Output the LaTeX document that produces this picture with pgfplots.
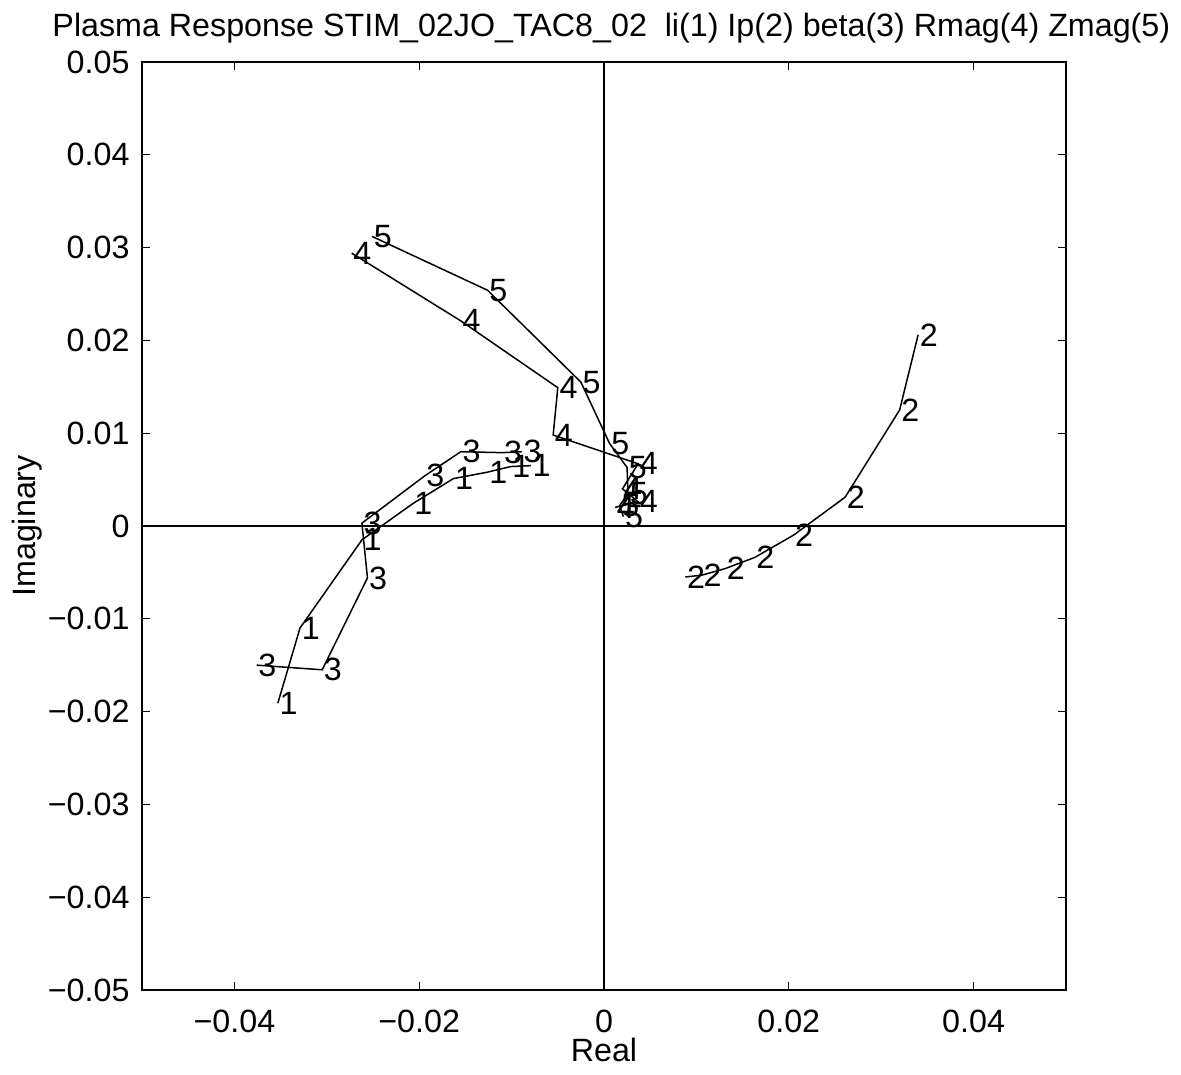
\documentclass[border=0pt]{standalone}
\usepackage{fontspec}
\setmainfont{Liberation Sans}
\usepackage{pgfplots}
\pgfplotsset{compat=1.18}
\newcommand{\fs}{\fontsize{12.9}{15}\selectfont}
\begin{document}
\fs
\begin{tikzpicture}
\begin{axis}[
  scale only axis, width=369.6pt, height=371.2pt,
  xmin=-0.05, xmax=0.05, ymin=-0.05, ymax=0.05,
  xtick={-0.04,-0.02,0,0.02,0.04},
  xticklabels={−0.04,−0.02,0,0.02,0.04},
  ytick={-0.05,-0.04,-0.03,-0.02,-0.01,0,0.01,0.02,0.03,0.04,0.05},
  yticklabels={−0.05,−0.04,−0.03,−0.02,−0.01,0,0.01,0.02,0.03,0.04,0.05},
  scaled ticks=false,
  tick align=inside, major tick length=3.2pt,
  tick style={black, line width=0.5pt},
  axis line style={line width=0.6pt},
  every tick label/.append style={font=\fs},
  xticklabel style={yshift=-3.5pt},
  yticklabel style={xshift=-0.5pt},
  title={Plasma Response STIM\_02JO\_TAC8\_02\ \ li(1) Ip(2) beta(3) Rmag(4) Zmag(5)},
  title style={font=\fs, at={(axis description cs:0.508,1)}, anchor=base, yshift=4pt},
  xlabel={Real}, ylabel={Imaginary},
  xlabel style={font=\fs, at={(axis description cs:0.5,-0.0776)}, anchor=base},
  ylabel style={font=\fs, at={(axis description cs:-0.1245,0.5)}, anchor=center},
  clip=false,
  every axis plot/.append style={black, line width=0.6pt, mark=none},
  every node near coord/.append style={anchor=west, inner sep=0.4pt, font=\fs, black},
]
\draw[line width=0.6pt] (axis cs:-0.05,0) -- (axis cs:0.05,0);
\draw[line width=0.6pt] (axis cs:0,-0.05) -- (axis cs:0,0.05);
% li (1)
\addplot[nodes near coords={1}] coordinates {
(-0.0353,-0.0191) (-0.0329,-0.0110) (-0.0262,-0.0015) (-0.0207,0.0024)
(-0.0163,0.0051) (-0.0126,0.0058) (-0.0101,0.0064) (-0.0079,0.0065)};
% Ip (2)
\addplot[nodes near coords={2}] coordinates {
(0.0088,-0.0055) (0.0106,-0.0053) (0.0131,-0.0046) (0.0163,-0.0034)
(0.0205,-0.0010) (0.0261,0.0031) (0.0320,0.0125) (0.0340,0.0206)};
% beta (3)
\addplot[nodes near coords={3}] coordinates {
(-0.0376,-0.0150) (-0.0305,-0.0155) (-0.0256,-0.0056) (-0.0262,0.0003)
(-0.0194,0.0054) (-0.0155,0.0080) (-0.0110,0.0079) (-0.0089,0.0080)};
% Rmag (4)
\addplot[nodes near coords={4}] coordinates {
(-0.0273,0.0294) (-0.0155,0.0221) (-0.0050,0.0149) (-0.0055,0.0098)
(0.0037,0.0067) (0.0020,0.0040) (0.0037,0.0026) (0.0012,0.0020)};
% Zmag (5)
\addplot[nodes near coords={5}] coordinates {
(-0.0251,0.0312) (-0.0126,0.0254) (-0.0025,0.0155) (0.0006,0.0089)
(0.0025,0.0063) (0.0026,0.0035) (0.0017,0.0022) (0.0021,0.0010)};
\coordinate (bbsw) at (rel axis cs:-0.1537,-0.0916);
\coordinate (bbne) at (rel axis cs:1.1245,1.0668);
\end{axis}
\pgfresetboundingbox
\useasboundingbox (bbsw) rectangle (bbne);
\end{tikzpicture}
\end{document}
